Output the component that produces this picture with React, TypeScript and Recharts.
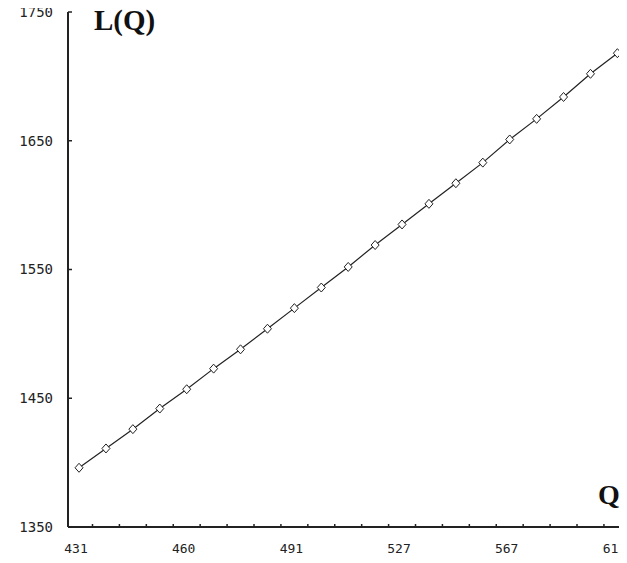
import { LineChart, Line, XAxis, YAxis } from "recharts";

const qLabels = [
  431, 438, 445, 453, 460, 468, 475, 483, 491, 500, 509,
  518, 527, 537, 547, 557, 567, 578, 589, 600, 612,
];
const lValues = [
  1396, 1411, 1426, 1442, 1457, 1473, 1488, 1504, 1520, 1536, 1552,
  1569, 1585, 1601, 1617, 1633, 1651, 1667, 1684, 1702, 1718,
];
const yTicks = [1350, 1450, 1550, 1650, 1750];
const labelEvery = 4;

const data = lValues.map((l, i) => ({ i, q: qLabels[i], l }));

// labelled ticks on every 4th point, small inward marks between points
const xTicks = [
  ...qLabels.map((_, i) => i).filter((i) => i % labelEvery === 0),
  ...qLabels.slice(1).map((_, i) => i + 0.5),
].sort((a, b) => a - b);

const tickFont = "'DejaVu Sans Mono', monospace";

function XTick(props: any) {
  const { x, y, payload } = props;
  const v = payload.value;
  if (Number.isInteger(v)) {
    return (
      <text x={x - 3} y={y + 26} textAnchor="middle" fontFamily={tickFont} fontSize={13} fill="#222">
        {qLabels[v]}
      </text>
    );
  }
  return <line x1={x} x2={x} y1={y} y2={y - 3} stroke="#222" strokeWidth={1.5} />;
}

function Diamond(props: any) {
  const { cx, cy, index } = props;
  if (cx == null || cy == null) return null;
  return (
    <polygon
      key={index}
      points={`${cx},${cy - 4.5} ${cx + 4},${cy} ${cx},${cy + 4.5} ${cx - 4},${cy}`}
      fill="#fff"
      stroke="#222"
      strokeWidth={1}
    />
  );
}

export default function App() {
  return (
    <div style={{ margin: -8, width: 627, height: 563, overflow: "hidden", position: "relative", background: "#fff" }}>
      <LineChart width={640} height={563} data={data} margin={{ top: 12, right: 7, bottom: 0, left: 0 }}>
        <XAxis
          dataKey="i"
          type="number"
          domain={[-0.41, 20.58]}
          allowDataOverflow
          ticks={xTicks}
          interval={0}
          tick={<XTick />}
          tickLine={false}
          tickSize={0}
          tickMargin={0}
          height={36}
          axisLine={{ stroke: "#222", strokeWidth: 2 }}
        />
        <YAxis
          domain={[1350, 1750]}
          ticks={yTicks}
          allowDataOverflow
          width={68}
          tickSize={-4}
          tickMargin={19}
          interval={0}
          tick={{ fontFamily: tickFont, fontSize: 14, fill: "#222" }}
          tickLine={{ stroke: "#222", strokeWidth: 1.5 }}
          axisLine={{ stroke: "#222", strokeWidth: 2 }}
        />
        <Line
          dataKey="l"
          stroke="#222"
          strokeWidth={1.2}
          dot={<Diamond />}
          isAnimationActive={false}
        />
      </LineChart>
      <svg width={627} height={563} style={{ position: "absolute", left: 0, top: 0, pointerEvents: "none" }}>
        <text x={94} y={30} fontFamily="'Liberation Serif', serif" fontWeight="bold" fontSize={29} fill="#111">
          L(Q)
        </text>
        <text x={598} y={504} fontFamily="'Liberation Serif', serif" fontWeight="bold" fontSize={28} fill="#111">
          Q
        </text>
      </svg>
    </div>
  );
}
